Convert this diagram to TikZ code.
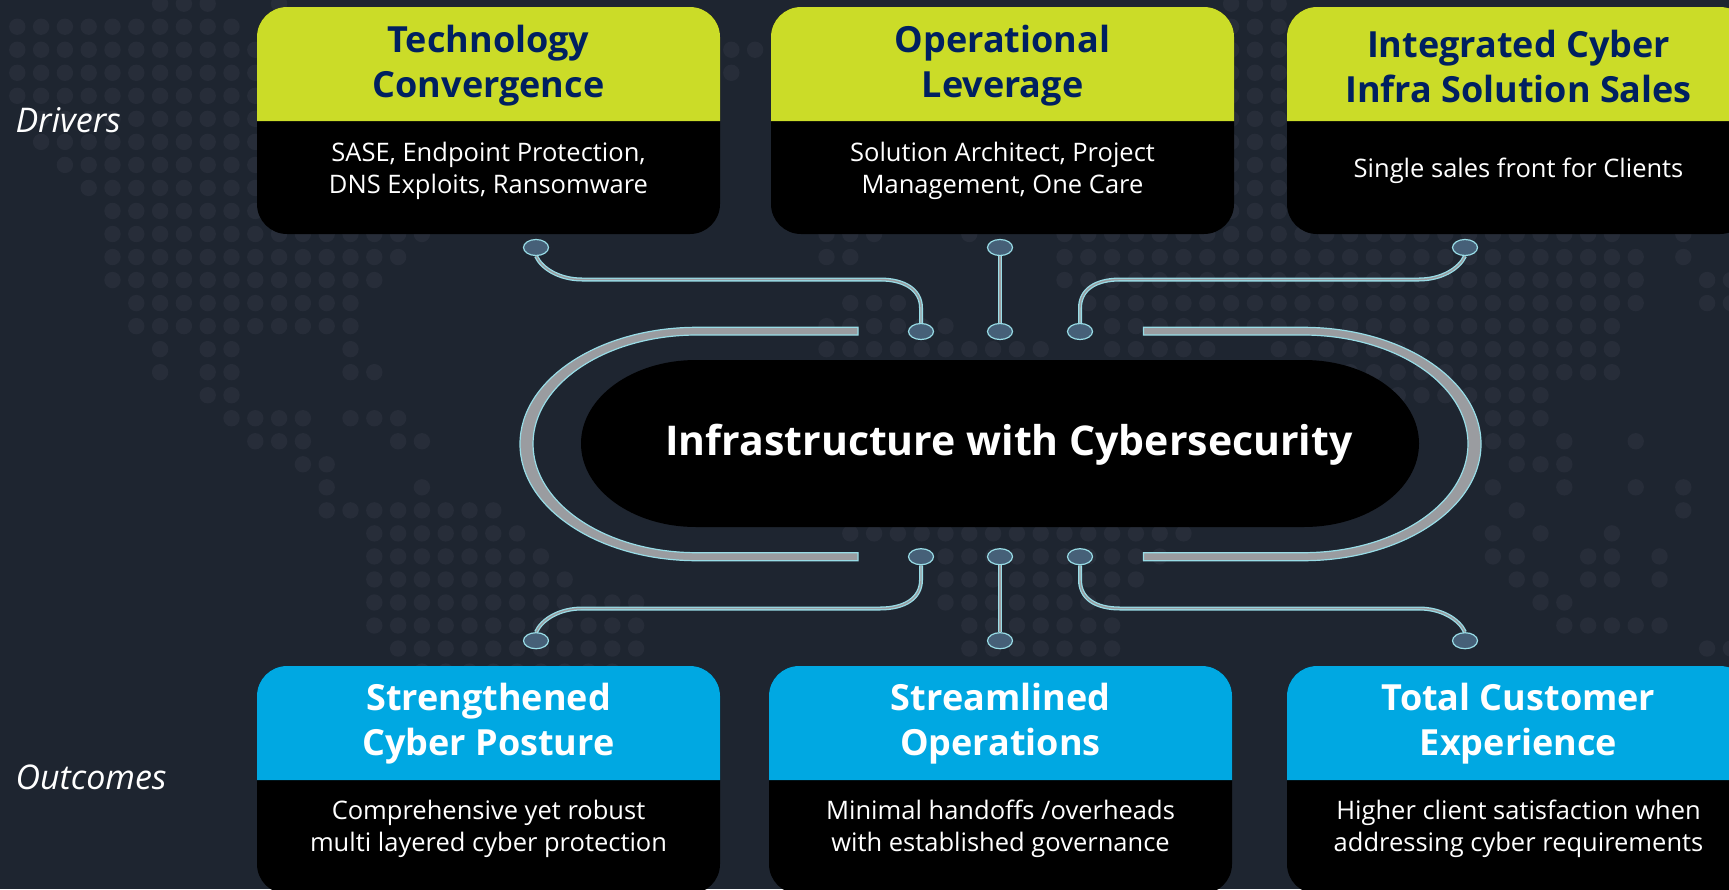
\documentclass[tikz,border=0pt]{standalone}
\usepackage{fontspec}
\setmainfont{Open Sans}
\usetikzlibrary{shapes.geometric}

\definecolor{bgNavy}{HTML}{1E2530}
\definecolor{mapDot}{HTML}{272D39}
\definecolor{limeHead}{HTML}{CBDC28}
\definecolor{skyHead}{HTML}{00A8E2}
\definecolor{navyText}{HTML}{002060}
\definecolor{wireLine}{HTML}{98DCE6}
\definecolor{wireCore}{HTML}{9A9CA0}
\definecolor{padFill}{HTML}{466078}

\begin{document}
\begin{tikzpicture}[
        x=1pt, y=-1pt,
        declare function={
            dotX(\i)=17.3+23.8*\i;
            dotY(\j)=3.7+23.03*\j;
        },
        headtext/.style={align=center, font=\fontsize{36}{45}\selectfont\bfseries},
        bodytext/.style={align=center, text=white, font=\fontsize{25.5}{32.4}\selectfont},
        sidetext/.style={anchor=west, text=white, font=\fontsize{34}{40}\selectfont\itshape},
        padnode/.style={ellipse, draw=wireLine, fill=padFill, line width=1.2pt, minimum width=25pt, minimum height=16pt, inner sep=0pt},
        wire/.style={draw=wireLine, line width=1.3pt, double=wireCore, double distance=1.4pt},
        band/.style={draw=wireLine, fill=wireCore, line width=1.2pt}
    ]
        \useasboundingbox (0,0) rectangle (1729,889);
        \fill[bgNavy] (0,0) rectangle (1729,889);

        \foreach \j/\a/\b in {0/6/8, 0/11/11, 1/0/9, 2/0/10, 3/0/10, 4/0/10, 5/1/10, 6/1/10, 7/2/10, 8/3/10, 9/4/10,
                10/4/17, 11/4/16, 12/4/15, 13/5/14, 14/5/14, 15/6/6, 15/8/9, 15/14/14, 16/6/6, 16/8/9, 16/14/15,
                17/8/9, 18/9/12, 18/14/16, 19/10/12, 19/16/17, 20/12/13, 21/13/13, 21/17/17, 22/13/20, 23/15/21,
                24/15/22, 25/15/23, 26/15/26, 27/15/26, 28/16/26, 29/17/25,
                2/30/31, 3/30/30, 10/34/36, 10/40/40, 11/34/35, 13/35/37, 14/34/39, 15/34/43,
                23/35/49, 24/38/48, 25/39/47, 26/39/46, 27/40/46, 28/40/46,
                0/51/53, 1/51/53, 2/51/53, 3/51/53, 4/51/53, 5/51/53, 6/51/53, 7/51/53, 8/51/53, 9/51/53,
                10/44/67, 10/70/70, 11/44/68, 11/70/70, 12/44/68, 12/71/72, 13/45/68, 13/71/72, 14/46/67,
                15/46/50, 15/53/67, 16/55/67, 17/58/64, 18/62/64, 19/62/63, 19/65/65, 19/68/68, 20/63/65,
                21/62/62, 21/65/65, 21/68/68, 21/70/70, 22/63/63, 22/70/70, 23/62/62, 23/64/64, 23/67/67,
                24/62/63, 24/66/67, 24/69/69, 25/63/64, 25/66/67, 25/69/69, 26/64/65, 27/65/69, 28/71/72} {
            \foreach \i in {\a,...,\b} {
                \fill[mapDot] ({dotX(\i)},{dotY(\j)}) circle (8.2pt);
            }
        }

        \foreach \n/\Cx/\head/\body in {
                tech/488.5/{Technology\\Convergence}/{SASE, Endpoint Protection,\\DNS Exploits, Ransomware},
                oper/1002.5/{Operational\\Leverage}/{Solution Architect, Project\\Management, One Care},
                sale/1518.5/{Integrated Cyber\\Infra Solution Sales}/{Single sales front for Clients}} {
            \fill[black, rounded corners=30pt] ({\Cx-231.5},7) rectangle ({\Cx+231.5},234);
            \fill[limeHead] ({\Cx-231.5},121) [rounded corners=30pt] -- ({\Cx-231.5},7) -- ({\Cx+231.5},7) [sharp corners] -- ({\Cx+231.5},121) -- cycle;
            \node[headtext, text=navyText] (\n Head) at (\Cx,66) {\head};
            \node[bodytext] (\n Body) at (\Cx,171) {\body};
        }
        \foreach \n/\Cx/\head/\body in {
                post/488.5/{Strengthened\\Cyber Posture}/{Comprehensive yet robust\\multi layered cyber protection},
                flow/1000.5/{Streamlined\\Operations}/{Minimal handoffs /overheads\\with established governance},
                cust/1518.5/{Total Customer\\Experience}/{Higher client satisfaction when\\addressing cyber requirements}} {
            \fill[black, rounded corners=30pt] ({\Cx-231.5},666) rectangle ({\Cx+231.5},894);
            \fill[skyHead] ({\Cx-231.5},780) [rounded corners=30pt] -- ({\Cx-231.5},666) -- ({\Cx+231.5},666) [sharp corners] -- ({\Cx+231.5},780) -- cycle;
            \node[headtext, text=white] (\n Head) at (\Cx,724) {\head};
            \node[bodytext] (\n Body) at (\Cx,829) {\body};
        }

        \node[sidetext] (drivers) at (12,120) {Drivers};
        \node[sidetext] (outcomes) at (12,777) {Outcomes};

        \fill[black] (696,360) -- (1304,360) arc[start angle=90, end angle=-90, x radius=115pt, y radius=83.5pt]
            -- (696,527) arc[start angle=270, end angle=90, x radius=115pt, y radius=83.5pt] -- cycle;
        \node[text=white, font=\fontsize{41}{48}\selectfont\bfseries] (core) at (1009,445) {Infrastructure with Cybersecurity};

        \draw[band] (858,327.3) -- (697,327.3) arc[start angle=90, end angle=270, x radius=177pt, y radius=116.7pt]
            -- (858,560.7) -- (858,552.7) -- (697,552.7) arc[start angle=270, end angle=90, x radius=164pt, y radius=108.85pt]
            -- (858,335) -- cycle;
        \draw[band] (1143.5,327.3) -- (1303,327.3) arc[start angle=90, end angle=-90, x radius=178pt, y radius=116.7pt]
            -- (1143.5,560.7) -- (1143.5,552.7) -- (1303,552.7) arc[start angle=-90, end angle=90, x radius=165pt, y radius=108.85pt]
            -- (1143.5,335) -- cycle;

        \node[padnode] (padTechA) at (536,247.5) {};
        \node[padnode] (padTechB) at (921,331.5) {};
        \node[padnode] (padOperA) at (1000,247.5) {};
        \node[padnode] (padOperB) at (1000,331.5) {};
        \node[padnode] (padSaleA) at (1465,247.5) {};
        \node[padnode] (padSaleB) at (1080,331.5) {};
        \node[padnode] (padPostA) at (921,556.7) {};
        \node[padnode] (padPostB) at (536,640.7) {};
        \node[padnode] (padFlowA) at (1000,556.7) {};
        \node[padnode] (padFlowB) at (1000,640.7) {};
        \node[padnode] (padCustA) at (1080,556.7) {};
        \node[padnode] (padCustB) at (1465,640.7) {};

        \draw[wire] (padTechA.south) .. controls (542,269) and (560,279.5) .. (582,279.5) -- (880,279.5) .. controls (905,279.5) and (921,290) .. (921,308) -- (padTechB.north);
        \draw[wire] (padOperA) -- (padOperB);
        \draw[wire] (padSaleA.south) .. controls (1459,269) and (1441,279.5) .. (1419,279.5) -- (1120,279.5) .. controls (1095,279.5) and (1080,290) .. (1080,308) -- (padSaleB.north);
        \draw[wire] (padPostB.north) .. controls (542,619) and (560,608.5) .. (582,608.5) -- (880,608.5) .. controls (905,608.5) and (921,598) .. (921,580) -- (padPostA.south);
        \draw[wire] (padFlowA) -- (padFlowB);
        \draw[wire] (padCustB.north) .. controls (1459,619) and (1441,608.5) .. (1419,608.5) -- (1120,608.5) .. controls (1095,608.5) and (1080,598) .. (1080,580) -- (padCustA.south);
    \end{tikzpicture}
\end{document}
